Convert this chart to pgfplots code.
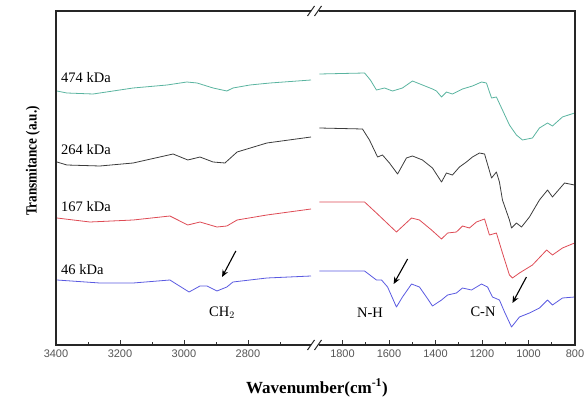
\documentclass[border=0pt]{standalone}
\usepackage{fontspec}
\setmainfont{Liberation Serif}
\newfontfamily\sans{Liberation Sans}
\usepackage{graphicx}
\usepackage{pgfplots}
\pgfplotsset{compat=1.18}
\usetikzlibrary{arrows.meta}
\definecolor{cteal}{RGB}{90,180,160}
\definecolor{cblack}{RGB}{60,60,60}
\definecolor{cred}{RGB}{222,75,85}
\definecolor{cblue}{RGB}{90,90,225}
\definecolor{tickgray}{RGB}{85,85,85}
\pgfplotsset{
  panel/.style={
    scale only axis, height=334pt, anchor=south west,
    ymin=73, ymax=407, ytick=\empty,
    x dir=reverse,
    axis line style={draw=none},
    xtick pos=bottom, tick align=inside,
    major tick length=5pt, minor tick length=3pt,
    every tick/.style={black!80, line width=0.8pt},
    /pgf/number format/assume math mode=true,
    /pgf/number format/1000 sep={},
    xticklabel style={font=\sans\fontsize{11}{11}\selectfont, text=tickgray, yshift=-1pt},
    clip=false,
  },
  spec/.style={line width=0.8pt, line join=round},
}
\begin{document}
\begin{tikzpicture}
\useasboundingbox (0,0) rectangle (585pt,418pt);
% ---------------- left panel ----------------
\begin{axis}[panel, name=L, at={(56pt,73pt)}, width=255pt,
  xmin=2603, xmax=3400,
  xtick={3400,3200,3000,2800}, minor xtick={3300,3100,2900,2700}]
\addplot[spec, cteal] table[y expr=418-\thisrow{y}] {
x y
3397 91
3366 93
3284 94
3159 88
3053 85
2991 82
2959 83
2909 88
2866 91
2847 88
2794 85
2731 83
2603 80
};
\addplot[spec, cblack] table[y expr=418-\thisrow{y}] {
x y
3397 162
3366 165
3263 166
3159 163
3034 154
2988 160
2950 157
2909 162
2872 163
2834 152
2741 143
2603 137
};
\addplot[spec, cred] table[y expr=418-\thisrow{y}] {
x y
3397 218
3294 222
3159 220
3044 216
2988 225
2950 222
2897 227
2866 226
2834 220
2741 215
2603 209
};
\addplot[spec, cblue] table[y expr=418-\thisrow{y}] {
x y
3397 280
3263 283
3159 283
3044 280
2984 292
2950 286
2928 286
2897 291
2866 287
2847 282
2741 278
2603 276
};
\draw[-{Stealth[length=7pt,width=6pt]}, line width=1.1pt] (axis cs:2838,418-251) -- (axis cs:2881,418-277);
\end{axis}
% ---------------- right panel ----------------
\begin{axis}[panel, name=R, at={(319pt,73pt)}, width=256pt,
  xmin=800, xmax=1901,
  xtick={1800,1600,1400,1200,1000,800}, minor xtick={1700,1500,1300,1100,900}]
\addplot[spec, cteal] table[y expr=418-\thisrow{y}] {
x y
1899 74
1705 73
1680 80
1654 90
1619 88
1585 91
1542 88
1499 81
1456 85
1413 89
1396 91
1374 97
1353 92
1327 94
1284 89
1241 86
1202 82
1181 83
1159 98
1138 97
1112 110
1082 125
1052 135
1026 140
983 138
953 128
918 123
897 126
854 117
802 113
};
\addplot[spec, cblack] table[y expr=418-\thisrow{y}] {
x y
1899 128
1714 129
1684 140
1649 157
1628 155
1598 163
1563 174
1525 158
1499 156
1456 160
1413 168
1374 182
1353 173
1327 175
1297 167
1267 162
1241 157
1211 153
1189 154
1159 178
1138 172
1125 182
1112 200
1082 220
1073 228
1052 223
1030 227
996 217
953 200
918 190
897 197
845 183
802 185
};
\addplot[spec, cred] table[y expr=418-\thisrow{y}] {
x y
1899 202
1705 202
1654 213
1568 232
1503 218
1469 220
1417 230
1374 239
1348 233
1310 232
1284 226
1254 228
1224 222
1189 219
1168 235
1138 233
1112 253
1082 275
1069 278
1039 273
983 265
922 250
897 255
854 248
802 243
};
\addplot[spec, cblue] table[y expr=418-\thisrow{y}] {
x y
1899 271
1705 271
1654 280
1632 280
1606 287
1568 307
1542 297
1503 284
1469 287
1439 297
1413 306
1374 300
1348 295
1310 293
1284 288
1245 290
1202 284
1176 287
1155 297
1125 300
1103 312
1073 327
1039 317
996 313
953 308
918 300
897 305
854 298
802 297
};
\draw[-{Stealth[length=7pt,width=6pt]}, line width=1.1pt] (axis cs:1520,418-259) -- (axis cs:1580,418-284);
\draw[-{Stealth[length=7pt,width=6pt]}, line width=1.1pt] (axis cs:1009,418-277) -- (axis cs:1069,418-303);
\end{axis}
% ---------------- frames and breaks ----------------
\draw[black!85, line width=1.1pt] (L.north east) -- (L.north west) -- (L.south west) -- (L.south east);
\draw[black!85, line width=1.1pt] (R.north west) -- (R.north east) -- (R.south east) -- (R.south west);
\foreach \xx in {311,318}{
  \draw[black!85, line width=1pt] (\xx pt-3.5pt,407pt-5pt) -- (\xx pt+3.5pt,407pt+5pt);
  \draw[black!85, line width=1pt] (\xx pt-3.5pt,73pt-5pt) -- (\xx pt+3.5pt,73pt+5pt);
}
% ---------------- texts ----------------
\begin{scope}[every node/.style={font=\fontsize{14.5}{14.5}\selectfont, inner sep=0pt}]
\node[anchor=west] at (61pt,340pt) {474 kDa};
\node[anchor=west] at (61pt,268pt) {264 kDa};
\node[anchor=west] at (61pt,211pt) {167 kDa};
\node[anchor=west] at (61pt,148pt) {46 kDa};
\node at (222pt,105pt) {CH$_2$};
\node at (370pt,105pt) {N-H};
\node at (483pt,106pt) {C-N};
\end{scope}
\node[font=\bfseries\fontsize{17}{17}\selectfont] at (317pt,30pt) {Wavenumber(cm\textsuperscript{-1})};
\node[rotate=90, font=\bfseries\fontsize{15.5}{15.5}\selectfont] at (33pt,257pt) {\scalebox{0.85}[1]{Transmitance (a.u.)}};
\end{tikzpicture}
\end{document}
